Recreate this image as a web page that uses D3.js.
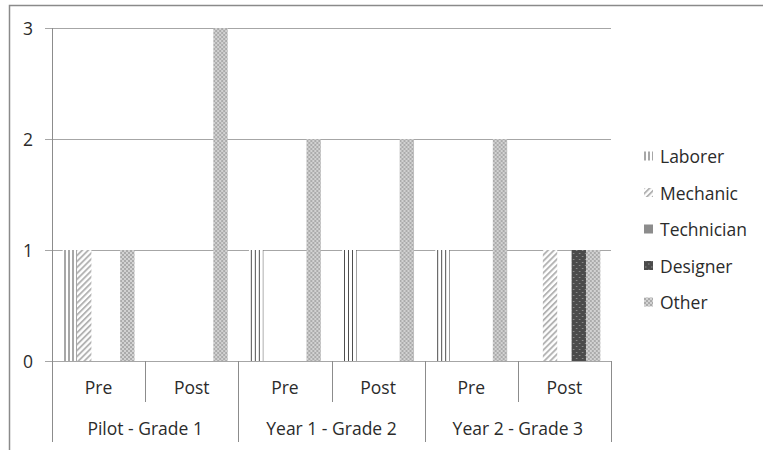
<!DOCTYPE html>
<html>
<head>
<meta charset="utf-8">
<script src="https://cdn.jsdelivr.net/npm/d3@7"></script>
<style>
  html, body { margin: 0; padding: 0; background: #fff; }
  svg { display: block; font-family: "Open Sans", Lato, sans-serif; }
</style>
</head>
<body>
<svg id="chart" width="763" height="450"></svg>
<script>
// Occupations named by students, before and after each program year
const categories = ["Pre", "Post", "Pre", "Post", "Pre", "Post"];
const groups = ["Pilot - Grade 1", "Year 1 - Grade 2", "Year 2 - Grade 3"];
const seriesNames = ["Laborer", "Mechanic", "Technician", "Designer", "Other"];
const laborer    = [1, 0, 1, 1, 1, 0];
const mechanic   = [1, 0, 0, 0, 0, 1];
const technician = [0, 0, 0, 0, 0, 0];
const designer   = [0, 0, 0, 0, 0, 1];
const other      = [1, 3, 2, 2, 2, 1];
const yTicks = [0, 1, 2, 3];

const seriesValues = [laborer, mechanic, technician, designer, other];
const seriesFill = ["url(#pLaborer)", "url(#pMechanic)", "#8c8c8c", "url(#pDesigner)", "url(#pOther)"];

const svg = d3.select("#chart");
const plot = { left: 52, right: 611, top: 28, bottom: 361 };
const fontSize = 17.5;
const textColor = "#2b2b2b";

// ---- fill patterns ----
const defs = svg.append("defs");

const pLab = defs.append("pattern").attr("id", "pLaborer")
  .attr("patternUnits", "userSpaceOnUse").attr("width", 4).attr("height", 4).attr("x", 0.5);
pLab.append("rect").attr("width", 4).attr("height", 4).attr("fill", "#fff");
pLab.append("rect").attr("x", 0).attr("width", 1).attr("height", 4).attr("fill", "#4f4f4f");

const pMech = defs.append("pattern").attr("id", "pMechanic")
  .attr("patternUnits", "userSpaceOnUse").attr("width", 4.2).attr("height", 4.2)
  .attr("patternTransform", "rotate(45)");
pMech.append("rect").attr("width", 4.2).attr("height", 4.2).attr("fill", "#fff");
pMech.append("rect").attr("width", 1.9).attr("height", 4.2).attr("fill", "#b3b3b3");

const pDes = defs.append("pattern").attr("id", "pDesigner")
  .attr("patternUnits", "userSpaceOnUse").attr("width", 6).attr("height", 6);
pDes.append("rect").attr("width", 6).attr("height", 6).attr("fill", "#4b4b4b");
pDes.append("rect").attr("x", 1).attr("y", 1).attr("width", 1.5).attr("height", 1).attr("fill", "#8f8f8f");
pDes.append("rect").attr("x", 4).attr("y", 4).attr("width", 1.5).attr("height", 1).attr("fill", "#8f8f8f");

const pOth = defs.append("pattern").attr("id", "pOther")
  .attr("patternUnits", "userSpaceOnUse").attr("width", 4).attr("height", 4);
pOth.append("rect").attr("width", 4).attr("height", 4).attr("fill", "#d2d2d2");
pOth.append("rect").attr("x", 0).attr("y", 0).attr("width", 2).attr("height", 2).attr("fill", "#ababab");
pOth.append("rect").attr("x", 2).attr("y", 2).attr("width", 2).attr("height", 2).attr("fill", "#ababab");

// ---- frame ----
svg.append("rect")
  .attr("x", 9.5).attr("y", 5.5).attr("width", 800).attr("height", 500)
  .attr("fill", "none").attr("stroke", "#8a8a8a").attr("stroke-width", 1.5);

// ---- scales ----
const x0 = d3.scaleBand().domain(d3.range(categories.length))
  .range([plot.left, plot.right]).padding(0);
const x1 = d3.scaleBand().domain(seriesNames)
  .range([0, x0.bandwidth()]).paddingInner(0).paddingOuter(0.74);
const y = d3.scaleLinear().domain([0, 3]).range([plot.bottom, plot.top]);

// ---- gridlines with tick marks ----
svg.append("g").selectAll("line").data(yTicks).join("line")
  .attr("x1", plot.left - 7).attr("x2", plot.right)
  .attr("y1", d => Math.round(y(d)) + 0.5).attr("y2", d => Math.round(y(d)) + 0.5)
  .attr("stroke", "#a6a6a6").attr("stroke-width", 1);

svg.append("g").selectAll("text").data(yTicks).join("text")
  .attr("x", 33).attr("y", d => y(d))
  .attr("text-anchor", "end").attr("dominant-baseline", "central")
  .attr("font-size", fontSize).attr("fill", textColor)
  .text(d => d3.format("d")(d));

// ---- bars ----
const cats = svg.append("g").selectAll("g").data(categories.map((c, i) => i)).join("g")
  .attr("transform", i => `translate(${x0(i)},0)`);

cats.selectAll("rect")
  .data(i => seriesNames.map((s, k) => ({ s, k, v: seriesValues[k][i] })))
  .join("rect")
  .attr("x", d => x1(d.s))
  .attr("width", x1.bandwidth())
  .attr("y", d => y(d.v))
  .attr("height", d => y(0) - y(d.v))
  .attr("fill", d => seriesFill[d.k]);

// ---- axes lines ----
svg.append("line")
  .attr("x1", plot.left + 0.5).attr("x2", plot.left + 0.5)
  .attr("y1", plot.top).attr("y2", plot.bottom)
  .attr("stroke", "#8c8c8c");

// Category separators below the baseline: short between Pre/Post, long between groups
const edges = d3.range(categories.length + 1);
svg.append("g").selectAll("line").data(edges).join("line")
  .attr("x1", i => Math.round(i < categories.length ? x0(i) : plot.right) + 0.5)
  .attr("x2", i => Math.round(i < categories.length ? x0(i) : plot.right) + 0.5)
  .attr("y1", plot.bottom)
  .attr("y2", i => (i % 2 === 1) ? 402 : 442)
  .attr("stroke", "#8c8c8c");

svg.append("g").selectAll("text").data(categories.map((c, i) => i)).join("text")
  .attr("x", i => x0(i) + x0.bandwidth() / 2).attr("y", 394)
  .attr("text-anchor", "middle").attr("font-size", fontSize).attr("fill", textColor)
  .text(i => categories[i]);

svg.append("g").selectAll("text").data(groups).join("text")
  .attr("x", (g, j) => x0(j * 2) + x0.bandwidth()).attr("y", 435)
  .attr("text-anchor", "middle").attr("font-size", fontSize).attr("fill", textColor)
  .text(g => g);

// ---- legend ----
const legend = svg.append("g").selectAll("g").data(seriesNames).join("g")
  .attr("transform", (s, k) => `translate(644,${156 + k * 36.5})`);
legend.append("rect")
  .attr("x", 0).attr("y", -4.5).attr("width", 9).attr("height", 9)
  .attr("fill", (s, k) => seriesFill[k]);
legend.append("text")
  .attr("x", 16).attr("y", 0).attr("dominant-baseline", "central")
  .attr("font-size", fontSize).attr("fill", textColor)
  .text(s => s);
</script>
</body>
</html>
